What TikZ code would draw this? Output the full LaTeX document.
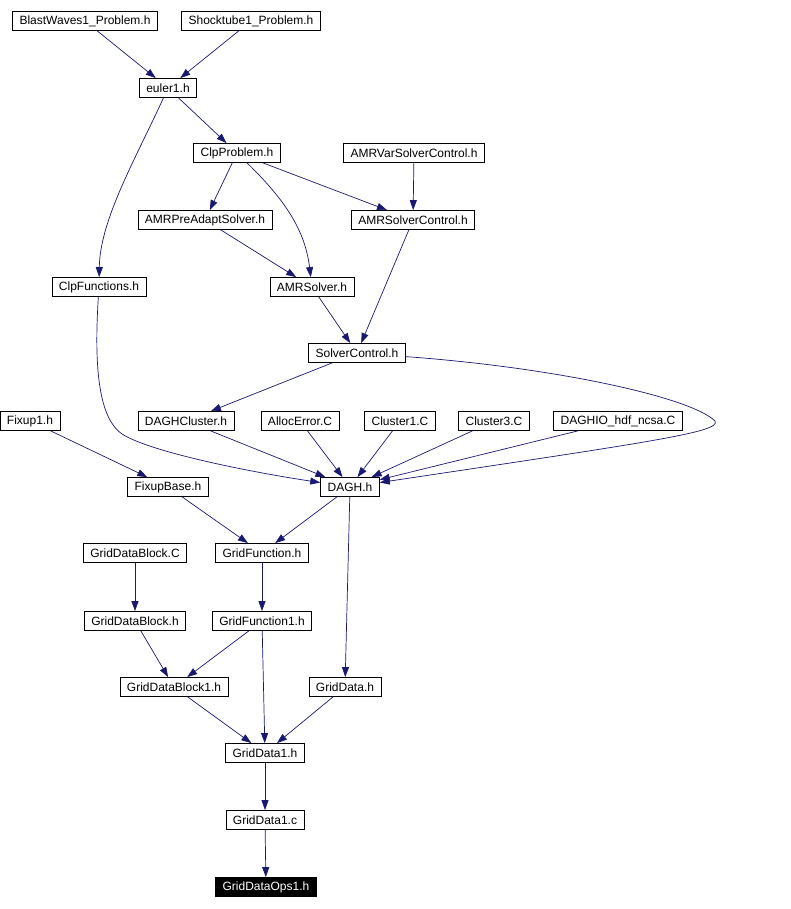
\documentclass[tikz,border=0pt]{standalone}
\usepackage{fontspec}
\setmainfont{Liberation Sans}
\usetikzlibrary{arrows.meta}
\definecolor{edgeblue}{HTML}{191970}
\tikzset{
  file/.style={draw, black, line width=0.8pt, fill=white, inner xsep=7pt, inner ysep=0pt,
    minimum height=19pt, font=\fontsize{12}{14}\selectfont},
  here/.style={file, fill=black, text=white},
  dep/.style={edgeblue, line width=0.7pt, -{Triangle[length=10pt,width=7pt]}}
}

\begin{document}
\begin{tikzpicture}[x=1pt, y=-1pt]
\useasboundingbox (0,0) rectangle (790,909);
\node[file] (BW) at (85,21) {BlastWaves1\_Problem.h};
\node[file] (ST) at (251,21) {Shocktube1\_Problem.h};
\node[file] (EU) at (168,88) {euler1.h};
\node[file] (CP) at (237,153) {ClpProblem.h};
\node[file] (AVSC) at (414,153) {AMRVarSolverControl.h};
\node[file] (APS) at (205,220) {AMRPreAdaptSolver.h};
\node[file] (ASC) at (413,220) {AMRSolverControl.h};
\node[file] (CF) at (99,287) {ClpFunctions.h};
\node[file] (AS) at (312,287) {AMRSolver.h};
\node[file] (SC) at (357,353) {SolverControl.h};
\node[file] (FX) at (30,421) {Fixup1.h};
\node[file] (DC) at (186,421) {DAGHCluster.h};
\node[file] (AE) at (300,421) {AllocError.C};
\node[file] (C1) at (400,421) {Cluster1.C};
\node[file] (C3) at (494,421) {Cluster3.C};
\node[file] (DIO) at (618,421) {DAGHIO\_hdf\_ncsa.C};
\node[file] (FB) at (168,487) {FixupBase.h};
\node[file] (DAGH) at (350,487) {DAGH.h};
\node[file] (GDBC) at (135,553) {GridDataBlock.C};
\node[file] (GF) at (262,553) {GridFunction.h};
\node[file] (GDB) at (135,621) {GridDataBlock.h};
\node[file] (GF1) at (262,621) {GridFunction1.h};
\node[file] (GDB1) at (174,687) {GridDataBlock1.h};
\node[file] (GD) at (345,687) {GridData.h};
\node[file] (GD1) at (265,753) {GridData1.h};
\node[file] (GD1c) at (265,820) {GridData1.c};
\node[here] (GDO) at (266,887) {GridDataOps1.h};
\coordinate (cfbend) at (122,434);
\coordinate (loop) at (715,421);
\draw[dep] (BW) -- (EU);
\draw[dep] (ST) -- (EU);
\draw[dep] (EU) -- (CP);
\draw[dep] (EU) .. controls (135,160) and (100,220) .. (CF);
\draw[dep] (CP) -- (APS);
\draw[dep] (CP) .. controls (285,200) and (305,230) .. (AS);
\draw[dep] (CP) -- (ASC);
\draw[dep] (AVSC) -- (ASC);
\draw[dep] (APS) -- (AS);
\draw[dep] (ASC) -- (SC);
\draw[dep] (AS) -- (SC);
\draw[dep] (CF) .. controls (93,380) and (102,420) .. (cfbend)
  .. controls (150,452) and (250,472) .. (DAGH);
\draw[dep] (SC) -- (DC);
\draw[dep] (SC) .. controls (560,368) and (692,398) .. (loop)
  .. controls (722,432) and (650,442) .. (DAGH);
\draw[dep] (DC) -- (DAGH);
\draw[dep] (AE) -- (DAGH);
\draw[dep] (C1) -- (DAGH);
\draw[dep] (C3) -- (DAGH);
\draw[dep] (DIO) -- (DAGH);
\draw[dep] (FX) -- (FB);
\draw[dep] (FB) -- (GF);
\draw[dep] (DAGH) -- (GF);
\draw[dep] (DAGH) -- (GD);
\draw[dep] (GDBC) -- (GDB);
\draw[dep] (GF) -- (GF1);
\draw[dep] (GDB) -- (GDB1);
\draw[dep] (GF1) -- (GDB1);
\draw[dep] (GF1) -- (GD1);
\draw[dep] (GDB1) -- (GD1);
\draw[dep] (GD) -- (GD1);
\draw[dep] (GD1) -- (GD1c);
\draw[dep] (GD1c) -- (GDO);
\end{tikzpicture}
\end{document}
